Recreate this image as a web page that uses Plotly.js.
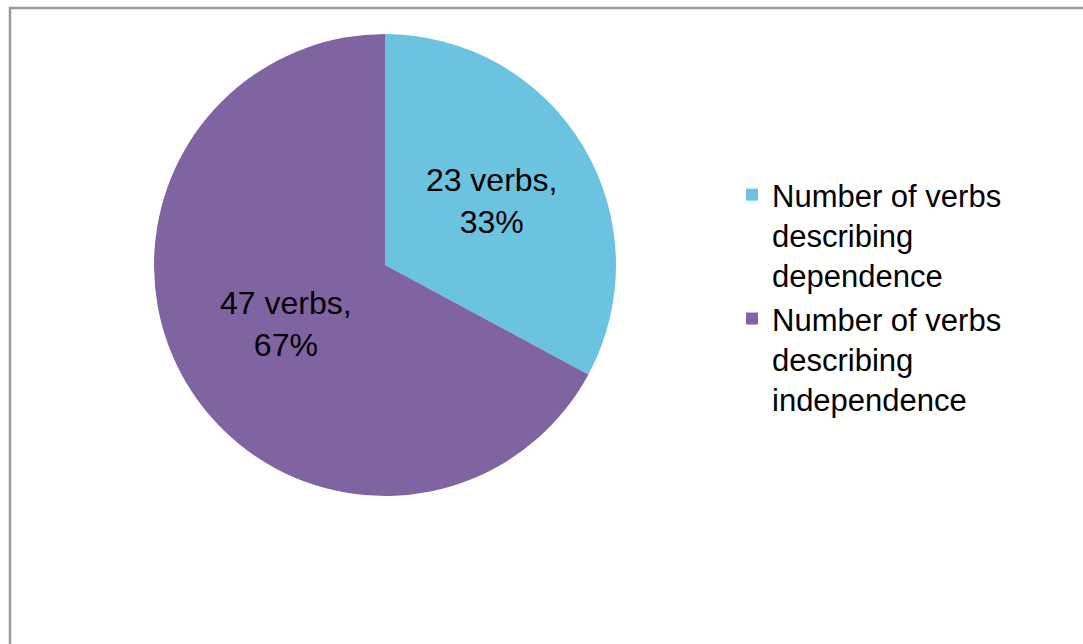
<!DOCTYPE html>
<html>
<head>
<meta charset="utf-8">
<script src="https://cdn.plot.ly/plotly-3.0.1.min.js"></script>
<style>html,body{margin:0;padding:0;background:#fff;}#chart{width:1083px;height:644px;}</style>
</head>
<body>
<div id="chart"></div>
<script>
const categories = ["Number of verbs<br>describing<br>dependence", "Number of verbs<br>describing<br>independence"];
const counts = [23, 47];
const percents = [33, 67];
const colors = ["#6cc3df", "#8064a2"];

const labelsText = counts.map((c, i) => c + " verbs,<br>" + percents[i] + "%");

const data = [{
  type: "pie",
  labels: categories,
  values: counts,
  text: labelsText,
  textinfo: "text",
  textposition: "inside",
  insidetextorientation: "horizontal",
  sort: false,
  direction: "clockwise",
  rotation: 0,
  marker: {colors: colors, line: {width: 0}},
  textfont: {family: "Liberation Sans, Arial, sans-serif", size: 32, color: "#000"},
  domain: {x: [154/1083, 616/1083], y: [1 - 496/644, 1 - 34/644]},
  hoverinfo: "none"
}];

const layout = {
  width: 1083, height: 644,
  margin: {l: 0, r: 0, t: 0, b: 0},
  paper_bgcolor: "#fff",
  showlegend: true,
  legend: {
    x: 732/1083, y: 1 - 168/644, xanchor: "left", yanchor: "top",
    font: {family: "Liberation Sans, Arial, sans-serif", size: 31, color: "#000"},
    valign: "top", bgcolor: "rgba(0,0,0,0)"
  },
  shapes: [{
    type: "rect", xref: "paper", yref: "paper",
    x0: 10/1083, x1: 1.02, y0: -0.02, y1: 1 - 8/644,
    line: {color: "#9a9a9a", width: 2.5}
  }]
};

Plotly.newPlot("chart", data, layout, {staticPlot: true});
</script>
</body>
</html>
